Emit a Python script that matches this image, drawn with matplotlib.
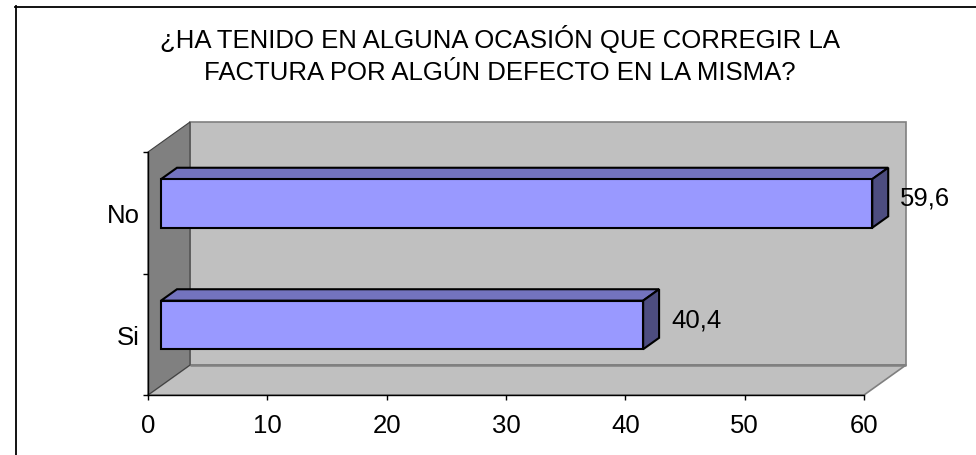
import matplotlib
matplotlib.use("Agg")
import matplotlib.pyplot as plt
from matplotlib.patches import Polygon, Rectangle
from matplotlib.lines import Line2D

plt.rcParams['font.family'] = ['Liberation Sans', 'DejaVu Sans']

title = "¿HA TENIDO EN ALGUNA OCASIÓN QUE CORREGIR LA\nFACTURA POR ALGÚN DEFECTO EN LA MISMA?"
categories = ["Si", "No"]
values = [40.4, 59.6]
x_ticks = [0, 10, 20, 30, 40, 50, 60]

W, H = 976, 456
fig = plt.figure(figsize=(W / 100, H / 100), dpi=100)
fig.patch.set_facecolor('white')

# outer chart frame (left and top edges)
fig.add_artist(Line2D([15.5 / W, 15.5 / W], [0, 1 - 7 / H], transform=fig.transFigure,
                      color='black', lw=1.3))
fig.add_artist(Line2D([15 / W, 1], [1 - 7.5 / H, 1 - 7.5 / H], transform=fig.transFigure,
                      color='black', lw=1.3))

# front plane of the plot area, in pixels
left_px, right_px, top_px, bottom_px = 148, 864, 153, 396
ax = fig.add_axes([left_px / W, (H - bottom_px) / H,
                   (right_px - left_px) / W, (bottom_px - top_px) / H])
xmax = x_ticks[-1]
n = len(categories)
ax.set_xlim(0, xmax)
ax.set_ylim(0, n)
ax.patch.set_visible(False)

# depth of the 3-D box, converted from pixels to data units
DX = 42 * xmax / (right_px - left_px)
DY = 30 * n / (bottom_px - top_px)

wall = '#c0c0c0'
side_wall = '#808080'
edge = '#808080'

# back wall
ax.add_patch(Rectangle((DX, DY), xmax, n, facecolor=wall, edgecolor=edge,
                       lw=1.2, clip_on=False, zorder=0.5))
# floor
ax.add_patch(Polygon([(0, 0), (xmax, 0), (xmax + DX, DY), (DX, DY)], closed=True,
                     facecolor=wall, edgecolor=edge, lw=1.2, clip_on=False, zorder=0.6))
# left wall
ax.add_patch(Polygon([(0, 0), (0, n), (DX, n + DY), (DX, DY)], closed=True,
                     facecolor=side_wall, edgecolor='#404040', lw=0.8, clip_on=False, zorder=0.7))
ax.plot([DX, xmax + DX], [DY, DY], color=edge, lw=1.8, clip_on=False, zorder=0.65,
        solid_capstyle='butt')

# 3-D bars
bar_h = 0.4
f_front, f_back = 0.31, 0.69
front_c = '#9999ff'
top_c = '#7373bf'
side_c = '#4d4d80'
for i, (cat, v) in enumerate(zip(categories, values)):
    yc = i + 0.5
    fx, fy = f_front * DX, f_front * DY
    bx, by = f_back * DX, f_back * DY
    y0, y1 = yc - bar_h / 2, yc + bar_h / 2
    kw = dict(closed=True, edgecolor='black', lw=1.5, clip_on=False, joinstyle='miter')
    ax.add_patch(Polygon([(fx, y1 + fy), (v + fx, y1 + fy), (v + bx, y1 + by), (bx, y1 + by)],
                         facecolor=top_c, zorder=3, **kw))
    ax.add_patch(Polygon([(v + fx, y0 + fy), (v + bx, y0 + by), (v + bx, y1 + by), (v + fx, y1 + fy)],
                         facecolor=side_c, zorder=3, **kw))
    ax.add_patch(Polygon([(fx, y0 + fy), (v + fx, y0 + fy), (v + fx, y1 + fy), (fx, y1 + fy)],
                         facecolor=front_c, zorder=4, **kw))
    label = f"{v:.1f}".replace('.', ',')
    ax.annotate(label, xy=(v + 0.5 * DX, yc + 0.5 * DY), xytext=(14.5, 0),
                textcoords='offset points', ha='left', va='center', fontsize=18.5,
                annotation_clip=False, zorder=5)

# axes
for s in ['top', 'right']:
    ax.spines[s].set_visible(False)
for s in ['left', 'bottom']:
    ax.spines[s].set_color('black')
    ax.spines[s].set_linewidth(1.0)
    ax.spines[s].set_zorder(2)

ax.set_xticks(x_ticks)
ax.set_xticklabels([str(t) for t in x_ticks])
ax.tick_params(axis='x', direction='out', length=3.6, width=1, pad=9.5, labelsize=18.5)

ax.set_yticks(range(n + 1))
ax.set_yticklabels([])
ax.set_yticks([i + 0.5 for i in range(n)], minor=True)
ax.set_yticklabels(categories, minor=True)
ax.tick_params(axis='y', which='major', direction='out', length=3.6, width=1)
ax.tick_params(axis='y', which='minor', length=0, pad=5.8, labelsize=18.5)

fig.text(500 / W, 1 - 55 / H, title, ha='center', va='center', fontsize=18.5,
         linespacing=1.38)

fig.savefig('out.png', dpi=100)
